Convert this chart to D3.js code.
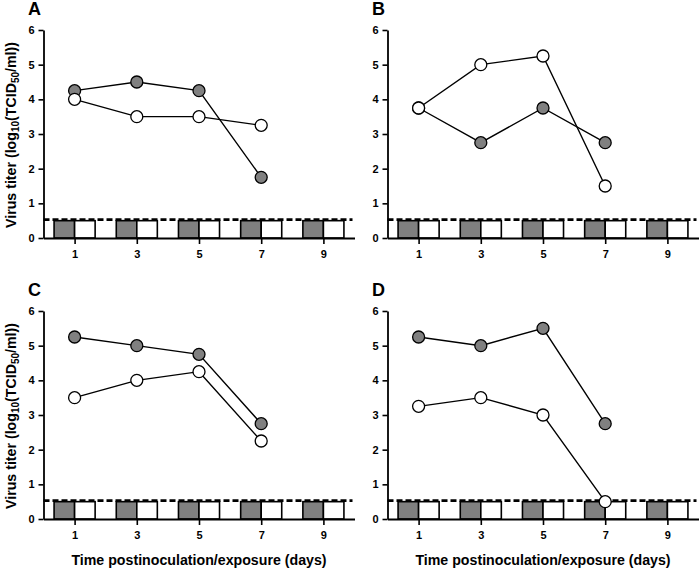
<!DOCTYPE html>
<html>
<head>
<meta charset="utf-8">
<script src="https://cdn.jsdelivr.net/npm/d3@7"></script>
<style>
  body { margin: 0; background: #fff; }
  svg text { font-family: "Liberation Sans", Arial, sans-serif; font-weight: bold; }
</style>
</head>
<body>
<div id="chart"></div>
<script>
const days = [1, 3, 5, 7];
const xTicks = [1, 3, 5, 7, 9];
const yTicks = [0, 1, 2, 3, 4, 5, 6];
const detectionLimit = 0.5;

// grey = filled circles, white = open circles
const greyA = [4.25, 4.5, 4.25, 1.75];
const whiteA = [4.0, 3.5, 3.5, 3.25];
const greyB = [3.75, 2.75, 3.75, 2.75];
const whiteB = [3.75, 5.0, 5.25, 1.5];
const greyC = [5.25, 5.0, 4.75, 2.75];
const whiteC = [3.5, 4.0, 4.25, 2.25];
const greyD = [5.25, 5.0, 5.5, 2.75];
const whiteD = [3.25, 3.5, 3.0, 0.5];

const panels = [
  { label: "A", ox: 0, oy: 0, grey: greyA, white: whiteA, ytitle: true, xtitle: false },
  { label: "B", ox: 344, oy: 0, grey: greyB, white: whiteB, ytitle: false, xtitle: false },
  { label: "C", ox: 0, oy: 281, grey: greyC, white: whiteC, ytitle: true, xtitle: true },
  { label: "D", ox: 344, oy: 281, grey: greyD, white: whiteD, ytitle: false, xtitle: true }
];

const greyFill = "#808080";
const svg = d3.select("#chart").append("svg")
  .attr("width", 700).attr("height", 568);

panels.forEach(p => {
  const g = svg.append("g").attr("transform", `translate(${p.ox},${p.oy})`);
  const x = d3.scaleLinear().domain([0, 10]).range([43.5, 354.5]);
  const y = d3.scaleLinear().domain([0, 6]).range([238, 30]);
  const barW = 0.66;

  // bars at baseline (grey before each day, white after)
  xTicks.forEach(d => {
    g.append("rect")
      .attr("x", x(d - barW)).attr("y", y(detectionLimit))
      .attr("width", x(d) - x(d - barW)).attr("height", y(0) - y(detectionLimit))
      .attr("fill", greyFill).attr("stroke", "#000").attr("stroke-width", 1.6);
    g.append("rect")
      .attr("x", x(d)).attr("y", y(detectionLimit))
      .attr("width", x(d + barW) - x(d)).attr("height", y(0) - y(detectionLimit))
      .attr("fill", "#fff").attr("stroke", "#000").attr("stroke-width", 1.6);
  });

  // detection limit
  g.append("line")
    .attr("x1", x(0)).attr("x2", x(10) - 2)
    .attr("y1", y(detectionLimit) - 1).attr("y2", y(detectionLimit) - 1)
    .attr("stroke", "#000").attr("stroke-width", 2.6)
    .attr("stroke-dasharray", "6,3");

  // axes
  const yAxis = g.append("g").attr("transform", `translate(${x(0)},0)`)
    .call(d3.axisLeft(y).tickValues(yTicks).tickFormat(d3.format("d"))
      .tickSize(5).tickSizeOuter(0).tickPadding(4));
  const xAxis = g.append("g").attr("transform", `translate(0,${y(0)})`)
    .call(d3.axisBottom(x).tickValues(xTicks).tickFormat(d3.format("d"))
      .tickSize(6).tickSizeOuter(0).tickPadding(6));
  [yAxis, xAxis].forEach(a => {
    a.select(".domain").attr("stroke-width", 1.8);
    a.selectAll(".tick line").attr("stroke-width", 1.6);
    a.selectAll(".tick text").attr("font-size", 11).attr("fill", "#000");
  });

  const line = d3.line().x((d, i) => x(days[i])).y(d => y(d));
  [p.grey, p.white].forEach(s => {
    g.append("path").attr("d", line(s))
      .attr("fill", "none").attr("stroke", "#000").attr("stroke-width", 1.4);
  });
  [[p.grey, greyFill], [p.white, "#fff"]].forEach(([s, fill]) => {
    g.selectAll(null).data(s).join("circle")
      .attr("cx", (d, i) => x(days[i])).attr("cy", d => y(d))
      .attr("r", 6).attr("fill", fill)
      .attr("stroke", "#000").attr("stroke-width", 1.3);
  });

  g.append("text").attr("x", 28).attr("y", 15)
    .attr("font-size", 18).text(p.label);

  if (p.ytitle) {
    const t = g.append("text")
      .attr("transform", `translate(16,135) rotate(-90)`)
      .attr("text-anchor", "middle").attr("font-size", 14.2);
    t.append("tspan").text("Virus titer (log");
    t.append("tspan").attr("font-size", 10).attr("dy", 3).text("10");
    t.append("tspan").attr("dy", -3).text("(TCID");
    t.append("tspan").attr("font-size", 10).attr("dy", 3).text("50");
    t.append("tspan").attr("dy", -3).text("/ml))");
  }
  if (p.xtitle) {
    g.append("text").attr("x", (x(0) + x(10)) / 2 - 0).attr("y", 284)
      .attr("text-anchor", "middle").attr("font-size", 14.2)
      .text("Time postinoculation/exposure (days)");
  }
});
</script>
</body>
</html>
